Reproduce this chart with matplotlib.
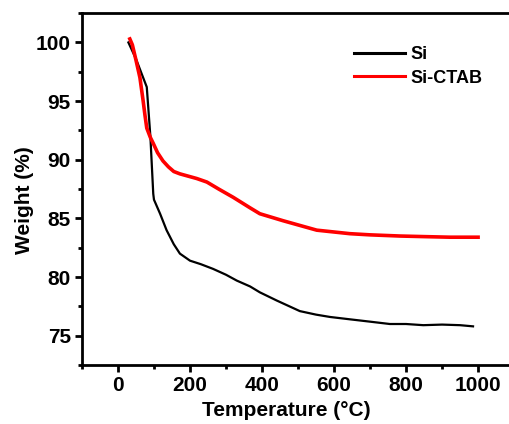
import matplotlib
matplotlib.use('Agg')
import matplotlib.pyplot as plt
from matplotlib.ticker import MultipleLocator

# TGA curves
si_temp = [29, 50, 70, 80, 90, 98, 100, 117, 135, 155, 172, 200, 230, 264, 300, 330,
           367, 394, 441, 505, 550, 589, 644, 700, 755, 800, 848, 900, 950, 986]
si_weight = [100.0, 98.6, 97.0, 96.2, 92.0, 87.1, 86.6, 85.4, 84.0, 82.8, 82.0, 81.4,
             81.1, 80.7, 80.2, 79.7, 79.2, 78.7, 78.0, 77.1, 76.8, 76.6, 76.4, 76.2,
             76.0, 76.0, 75.9, 75.95, 75.9, 75.8]

ctab_temp = [33, 40, 50, 61, 70, 75, 80, 90, 98, 110, 125, 140, 155, 172, 219, 247,
             280, 320, 367, 394, 459, 552, 644, 700, 783, 850, 922, 1000]
ctab_weight = [100.3, 99.8, 98.5, 97.0, 95.0, 93.8, 92.7, 91.9, 91.4, 90.6, 89.9,
               89.4, 89.0, 88.8, 88.4, 88.1, 87.5, 86.8, 85.9, 85.4, 84.8, 84.0,
               83.7, 83.6, 83.5, 83.45, 83.4, 83.4]

plt.rcParams['font.family'] = ['Liberation Sans', 'DejaVu Sans']
plt.rcParams['font.weight'] = 'bold'

fig = plt.figure(figsize=(5.09, 4.24), dpi=100)
ax = fig.add_axes([0.161, 0.139, 0.849, 0.830])

ax.plot(si_temp, si_weight, color='black', linewidth=1.6, label='Si')
ax.plot(ctab_temp, ctab_weight, color='#ff0000', linewidth=2.6, label='Si-CTAB')

ax.set_xlim(-100, 1100)
ax.set_ylim(72.5, 102.5)
ax.xaxis.set_major_locator(MultipleLocator(200))
ax.xaxis.set_minor_locator(MultipleLocator(100))
ax.yaxis.set_major_locator(MultipleLocator(5))
ax.yaxis.set_minor_locator(MultipleLocator(2.5))

for s in ax.spines.values():
    s.set_linewidth(2)
ax.tick_params(which='major', direction='out', length=5, width=2, labelsize=15, pad=3)
ax.tick_params(which='minor', direction='out', length=3, width=2)
for lab in ax.get_xticklabels() + ax.get_yticklabels():
    lab.set_fontweight('bold')

ax.set_xlabel('Temperature (°C)', fontsize=15, fontweight='bold')
ax.set_ylabel('Weight (%)', fontsize=15, fontweight='bold')
# the label in the reference sits a little left of the axes centre
ax.xaxis.set_label_coords(0.472, -0.103)
ax.yaxis.set_label_coords(-0.11, 0.47)

leg = ax.legend(loc='upper left', bbox_to_anchor=(0.593, 0.952), frameon=False,
                fontsize=13, handlelength=2.8, handletextpad=0.3, labelspacing=0.35)
for t in leg.get_texts():
    t.set_fontweight('bold')
for line in leg.get_lines():
    line.set_linewidth(2.2)

fig.savefig('out.png', dpi=100)
